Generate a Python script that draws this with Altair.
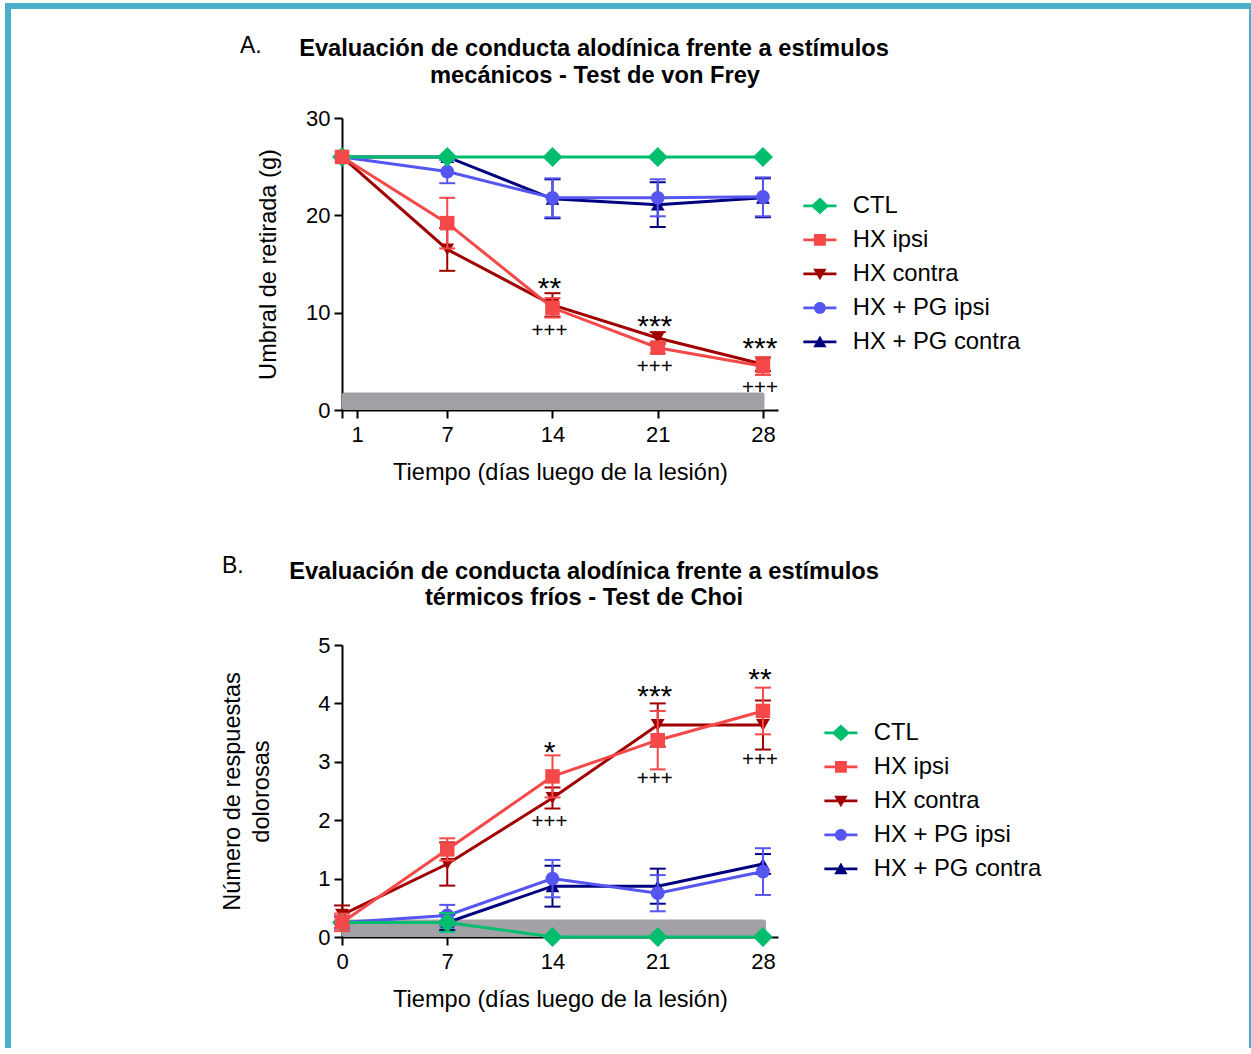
import altair as alt
import pandas as pd

FONT = "Liberation Sans"

# ---------------- shared ----------------
days = [0, 7, 14, 21, 28]
series_names = ["CTL", "HX ipsi", "HX contra", "HX + PG ipsi", "HX + PG contra"]
series_colors = ["#00BE6E", "#F54848", "#A00000", "#5555F0", "#00007F"]
point_shapes = ["diamond", "square", "triangle-down", "circle", "triangle-up"]
point_sizes = [400, 210, 190, 190, 190]
draw_order = ["HX + PG contra", "HX + PG ipsi", "HX contra", "CTL", "HX ipsi"]

# legend symbols: line + marker (unit path, scaled by sqrt(size)/2)
LINE = "M-2.36,-0.21H2.36V0.21H-2.36Z"
legend_paths = [
    LINE + "M0,-1.2L1.3,0L0,1.2L-1.3,0Z",
    LINE + "M-0.85,-0.85H0.85V0.85H-0.85Z",
    LINE + "M-0.95,-0.75H0.95L0,0.9Z",
    LINE + "M0.85,0A0.85,0.85,0,1,1,-0.85,0A0.85,0.85,0,1,1,0.85,0Z",
    LINE + "M0,-0.9L0.95,0.75H-0.95Z",
]

# ---------------- Panel A: von Frey ----------------
a_ctl = [26, 26, 26, 26, 26]
a_hx_ipsi = [26, 19.2, 10.5, 6.4, 4.5]
a_hx_contra = [26, 16.5, 10.8, 7.4, 4.7]
a_pg_ipsi = [26, 24.5, 21.8, 21.8, 21.9]
a_pg_contra = [26, 26, 21.7, 21.1, 21.8]

a_ctl_sem = [0, 0, 0, 0, 0]
a_hx_ipsi_sem = [0, 2.6, 1.0, 0.6, 0.9]
a_hx_contra_sem = [0, 2.2, 1.2, 0.6, 0.7]
a_pg_ipsi_sem = [0, 1.2, 2.0, 1.9, 2.0]
a_pg_contra_sem = [0, 0, 2.0, 2.3, 2.0]

a_bar = [0, 28.1, 0, 1.8]
a_star_x = [14, 21, 28]
a_star_y = [13.3, 9.3, 7.05]
a_star_t = ["**", "***", "***"]
a_plus_x = [14, 21, 28]
a_plus_y = [8.2, 4.55, 2.4]
a_plus_t = ["+++", "+++", "+++"]

# ---------------- Panel B: Choi ----------------
b_ctl = [0.25, 0.25, 0, 0, 0]
b_hx_ipsi = [0.25, 1.5, 2.75, 3.37, 3.87]
b_hx_contra = [0.38, 1.25, 2.38, 3.63, 3.63]
b_pg_ipsi = [0.25, 0.37, 1.0, 0.75, 1.12]
b_pg_contra = [0.25, 0.25, 0.87, 0.87, 1.25]

b_ctl_sem = [0, 0.16, 0, 0, 0]
b_hx_ipsi_sem = [0.15, 0.19, 0.36, 0.5, 0.4]
b_hx_contra_sem = [0.16, 0.37, 0.18, 0.37, 0.42]
b_pg_ipsi_sem = [0.1, 0.18, 0.32, 0.31, 0.4]
b_pg_contra_sem = [0.1, 0.13, 0.35, 0.3, 0.17]

b_bar = [0, 28.2, 0, 0.3]
b_star_x = [14, 21, 28]
b_star_y = [3.29, 4.25, 4.53]
b_star_t = ["*", "***", "**"]
b_plus_x = [14, 21, 28]
b_plus_y = [1.99, 2.73, 3.04]
b_plus_t = ["+++", "+++", "+++"]

one = pd.DataFrame({"k": [0]})
AX_TITLE = 23.6
LEG_FS = 23.8


def text_layer(txt, x, y, size, weight="normal", align="left"):
    return alt.Chart(one).mark_text(
        text=txt, font=FONT, fontSize=size, fontWeight=weight, color="black",
        align=align, baseline="alphabetic"
    ).encode(x=alt.value(x), y=alt.value(y))


def build_panel(means, sems, y_max, y_ticks, x_ticks, x_label_expr, y_title,
                y_title_pad, bar, stars, pluses, legend_x, legend_y, extra):
    xs = alt.Scale(domain=[0, 29], nice=False, zero=False)
    ys = alt.Scale(domain=[0, y_max], nice=False)
    xaxis = alt.Axis(values=x_ticks, labelExpr=x_label_expr,
                     title="Tiempo (días luego de la lesión)", grid=False,
                     domainColor="black", domainWidth=2, tickColor="black",
                     tickWidth=2, tickSize=8, labelFont=FONT, labelFontSize=22,
                     labelColor="black", labelPadding=6, labelFlush=False,
                     labelOverlap=False, titleFont=FONT, titleFontSize=AX_TITLE,
                     titleFontWeight="normal", titleColor="black", titlePadding=15)
    yaxis = alt.Axis(values=y_ticks, title=y_title, grid=False,
                     domainColor="black", domainWidth=2, tickColor="black",
                     tickWidth=2, tickSize=8, labelFont=FONT, labelFontSize=22,
                     labelColor="black", labelPadding=4, labelFlush=False,
                     labelOverlap=False, titleFont=FONT, titleFontSize=AX_TITLE,
                     titleFontWeight="normal", titleColor="black",
                     titlePadding=y_title_pad, titleLineHeight=29)

    def X(f):
        return alt.X(f, type="quantitative", scale=xs, axis=xaxis)

    def Y(f):
        return alt.Y(f, type="quantitative", scale=ys, axis=yaxis)

    layers = list(extra)
    bar_df = pd.DataFrame({"x": [bar[0]], "x2": [bar[1]], "y": [bar[2]], "y2": [bar[3]]})
    layers.append(alt.Chart(bar_df).mark_rect(color="#A2A2A6", cornerRadius=2).encode(
        x=X("x"), x2="x2", y=Y("y"), y2="y2"))

    for name in draw_order:
        i = series_names.index(name)
        col = series_colors[i]
        df = pd.DataFrame({"day": days, "mean": means[name], "sem": sems[name]})
        df["lo"] = df["mean"] - df["sem"]
        df["hi"] = df["mean"] + df["sem"]
        err = df[df["sem"] > 0]
        if len(err):
            eb = alt.Chart(err)
            layers.append(eb.mark_rule(color=col, strokeWidth=2).encode(
                x=X("day"), y=Y("lo"), y2="hi"))
            layers.append(eb.mark_tick(color=col, orient="horizontal", size=16,
                                       thickness=2, opacity=1).encode(x=X("day"), y=Y("lo")))
            layers.append(eb.mark_tick(color=col, orient="horizontal", size=16,
                                       thickness=2, opacity=1).encode(x=X("day"), y=Y("hi")))
        base = alt.Chart(df)
        layers.append(base.mark_line(color=col, strokeWidth=3).encode(
            x=X("day"), y=Y("mean")))
        layers.append(base.mark_point(color=col, fill=col, filled=True, opacity=1,
                                      shape=point_shapes[i], size=point_sizes[i],
                                      strokeWidth=0).encode(x=X("day"), y=Y("mean")))

    st = pd.DataFrame({"x": stars[0], "y": stars[1], "t": stars[2]})
    layers.append(alt.Chart(st).mark_text(font=FONT, fontSize=30, color="black",
                                          baseline="alphabetic", dy=17, dx=-3).encode(
        x=X("x"), y=Y("y"), text="t:N"))
    pl = pd.DataFrame({"x": pluses[0], "y": pluses[1], "t": pluses[2]})
    layers.append(alt.Chart(pl).mark_text(font=FONT, fontSize=20.5, color="black",
                                          baseline="alphabetic", dy=7, dx=-3).encode(
        x=X("x"), y=Y("y"), text="t:N"))

    leg_df = pd.DataFrame({"series": series_names, "day": [0] * 5, "mean": [0] * 5})
    leg = alt.Legend(orient="none", legendX=legend_x, legendY=legend_y, title=None,
                     labelFont=FONT, labelFontSize=LEG_FS, labelColor="black",
                     symbolSize=196, symbolStrokeWidth=0, symbolOpacity=1,
                     labelOffset=21, rowPadding=9, labelLimit=0, padding=0)
    layers.append(alt.Chart(leg_df).transform_filter("false").mark_point(
        filled=True, opacity=1).encode(
        x=X("day"), y=Y("mean"),
        color=alt.Color("series:N", scale=alt.Scale(domain=series_names, range=series_colors), legend=leg),
        shape=alt.Shape("series:N", scale=alt.Scale(domain=series_names, range=legend_paths), legend=leg),
    ))
    return alt.layer(*layers).properties(width=436, height=292)


a_means = dict(zip(series_names, [a_ctl, a_hx_ipsi, a_hx_contra, a_pg_ipsi, a_pg_contra]))
a_sems = dict(zip(series_names, [a_ctl_sem, a_hx_ipsi_sem, a_hx_contra_sem, a_pg_ipsi_sem, a_pg_contra_sem]))
b_means = dict(zip(series_names, [b_ctl, b_hx_ipsi, b_hx_contra, b_pg_ipsi, b_pg_contra]))
b_sems = dict(zip(series_names, [b_ctl_sem, b_hx_ipsi_sem, b_hx_contra_sem, b_pg_ipsi_sem, b_pg_contra_sem]))

border_color = "#4AAFC8"
border_layers = [
    alt.Chart(one).mark_rect(color=border_color).encode(
        x=alt.value(-337), x2=alt.value(-331), y=alt.value(-115), y2=alt.value(930)),
    alt.Chart(one).mark_rect(color=border_color).encode(
        x=alt.value(-337), x2=alt.value(909), y=alt.value(-115), y2=alt.value(-109)),
    alt.Chart(one).mark_rect(color=border_color).encode(
        x=alt.value(907), x2=alt.value(909), y=alt.value(-115), y2=alt.value(930)),
]

TS = 23.7
a_texts = [
    text_layer("A.", -102, -65, 23),
    text_layer("Evaluación de conducta alodínica frente a estímulos", 252, -62, TS, "bold", "center"),
    text_layer("mecánicos - Test de von Frey", 253, -35, TS, "bold", "center"),
]
b_texts = [
    text_layer("B.", -120, -72, 23),
    text_layer("Evaluación de conducta alodínica frente a estímulos", 242, -66, TS, "bold", "center"),
    text_layer("térmicos fríos - Test de Choi", 242, -40, TS, "bold", "center"),
]

panel_a = build_panel(a_means, a_sems, 30, [0, 10, 20, 30], [0, 1, 7, 14, 21, 28],
                      "datum.value == 0 ? '' : datum.label",
                      "Umbral de retirada (g)", 25, a_bar,
                      (a_star_x, a_star_y, a_star_t), (a_plus_x, a_plus_y, a_plus_t),
                      466, 76, border_layers + a_texts)
panel_b = build_panel(b_means, b_sems, 5, [0, 1, 2, 3, 4, 5], [0, 7, 14, 21, 28],
                      "datum.label",
                      ["Número de respuestas", "dolorosas"], 44, b_bar,
                      (b_star_x, b_star_y, b_star_t), (b_plus_x, b_plus_y, b_plus_t),
                      487, 76, b_texts)

chart = alt.vconcat(panel_a, panel_b, spacing=235, bounds="flush").resolve_scale(
    color="independent", shape="independent"
).resolve_legend(color="independent", shape="independent").properties(
    padding={"left": 5, "top": 3, "right": 0, "bottom": 0},
    background="white",
).configure_view(stroke=None)

chart.save("out.html", embed_options={"renderer": "svg", "actions": False})
